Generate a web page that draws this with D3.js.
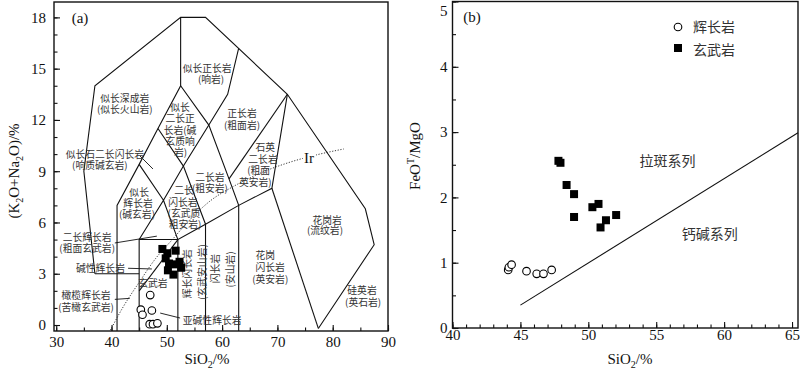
<!DOCTYPE html>
<html>
<head>
<meta charset="utf-8">
<script src="https://cdn.jsdelivr.net/npm/d3@7"></script>
<style>
  body { margin: 0; background: #fff; }
  text { font-family: "Liberation Serif", "Times New Roman", serif; fill: #111; }
  .cn { font-family: "Noto Sans CJK SC", sans-serif; font-size: 9.8px; fill: #333; }
  .tick text { font-size: 15px; }
</style>
</head>
<body>
<svg id="chart" width="800" height="371"></svg>
<script>
// ---- (a) TAS data: SiO2, K2O+Na2O
const gabbroTAS = [[47.0, 1.75], [45.3, 0.9], [45.6, 0.6], [47.3, 0.85], [46.9, 0.05], [47.5, 0.05], [48.3, 0.1]];
const basaltTAS = [[49.2, 4.45], [50.1, 4.2], [51.6, 4.35], [49.8, 3.9], [50.4, 3.6], [51.3, 3.55],
                   [52.3, 3.7], [50.2, 3.2], [51.2, 2.95], [52.6, 3.35]];

// ---- (b) data: SiO2, FeOT/MgO
const gabbroFM = [[44.1, 0.89], [44.15, 0.93], [44.35, 0.97], [45.45, 0.87], [46.2, 0.83], [46.7, 0.83], [47.3, 0.89]];
const basaltFM = [[47.8, 2.56], [47.95, 2.53], [48.4, 2.19], [48.95, 2.05], [48.95, 1.70], [50.3, 1.85],
                  [50.75, 1.90], [51.3, 1.65], [50.9, 1.54], [52.05, 1.73]];

// Middlemost (1994) field boundaries, B = bottom of plot
const B = -0.35;
const tasFields = [
  [[37, 3], [35, 9], [37, 14], [52.5, 18], [57, 18], [71.8, 13.5], [85.9, 6.8], [87.5, 4.7], [77.4, -0.2]],
  [[37, 3], [45, 3]],
  [[41, B], [41, 7], [45, 9.4], [48.4, 11.5], [52.5, 14], [52.5, 18]],
  [[45, B], [45, 5], [52, 5]],
  [[45, 2], [52, 5]],
  [[52, B], [52, 5], [57, 5.9], [63, 7], [69, 8], [71.8, 13.5]],
  [[45, 5], [49.4, 7.3], [52, 5]],
  [[45, 9.4], [49.4, 7.3], [53, 9.3], [57.6, 11.7], [61, 13.5], [63, 16.2]],
  [[48.4, 11.5], [53, 9.3], [57, 5.9], [57, B]],
  [[52.5, 14], [57.6, 11.7], [61.25, 8.55], [63, 7], [63, B]],
  [[61.25, 8.55], [71.8, 13.5]],
  [[69, 8], [77.4, -0.2]]
];
// Irvine & Baragar alkaline / subalkaline divide
const irLine = [[39.8, -0.3], [42, 1.0], [45, 2.5], [48, 3.9], [51, 5.0], [54, 6.1], [58, 7.3],
                [62, 8.1], [67, 8.9], [72, 9.5], [77, 9.95], [82, 10.3]];
// tholeiitic / calc-alkaline divide
const thLine = [[45, 0.35], [65.44, 2.99]];

// label layout (data coordinates), one group per field
const fieldLabels = [
  [['似长深成岩', 42.4, 13.28], ['(似长火山岩)', 42.4, 12.64]],
  [['似长正长岩', 57.3, 15.04], ['(响岩)', 58.0, 14.39]],
  [['似长', 52.4, 12.76], ['二长正', 52.4, 12.1], ['长岩(碱', 52.4, 11.43], ['玄质响', 52.4, 10.78], ['岩)', 52.5, 10.13]],
  [['正长岩', 63.6, 12.4], ['(粗面岩)', 63.6, 11.7]],
  [['石英', 67.8, 10.42], ['二长岩', 67.4, 9.71], ['(粗面', 66.6, 9.07], ['英安岩)', 66.0, 8.37]],
  [['二长岩', 57.8, 8.66], ['(粗安岩)', 57.8, 8.0]],
  [['二长', 53.1, 7.9], ['闪长岩', 52.9, 7.2], ['(玄武质', 53.1, 6.55], ['粗安岩)', 53.3, 5.91]],
  [['似长', 45.0, 7.78], ['辉长岩', 44.8, 7.14], ['(碱玄岩)', 44.6, 6.5]],
  [['似长石二长闪长岩', 38.8, 10.0], ['(响质碱玄岩)', 37.9, 9.36]],
  [['二长辉长岩', 35.6, 5.15], ['(粗面玄武岩)', 35.6, 4.5]],
  [['碱性辉长岩', 38.0, 3.32]],
  [['橄榄辉长岩', 35.4, 1.76], ['(苦橄玄武岩)', 35.4, 1.07]],
  [['玄武岩', 47.5, 2.46]],
  [['亚碱性辉长岩', 58.2, 0.29]],
  [['花岗', 67.8, 4.1], ['闪长岩', 68.7, 3.39], ['(英安岩)', 68.7, 2.69]],
  [['花岗岩', 79.0, 6.14], ['(流纹岩)', 78.6, 5.56]],
  [['硅英岩', 85.3, 2.05], ['(英石岩)', 85.5, 1.35]]
];
const rotatedLabels = [['辉长闪长岩', 53.7, 3.0], ['(玄武安山岩)', 56.3, 3.1], ['闪长岩', 58.7, 3.3], ['(安山岩)', 61.4, 3.25]];
const leaders = [
  [[40.6, 4.8], [48.2, 5.2]],
  [[43.0, 3.32], [47.3, 3.28]],
  [[40.6, 1.5], [43.3, 1.56]],
  [[45.15, 9.89], [47.5, 9.13]],
  [[48.8, 0.7], [52.4, 0.41]]
];

const svg = d3.select('#chart');

function frameAxes(g, x, y, xMajor, xMinor, yMajor, yMinor, xPad, yPad) {
    const [x0, x1] = x.range(), [y0, y1] = y.range();
    g.append('g').attr('transform', `translate(0,${y0})`)
        .call(d3.axisBottom(x).tickValues(xMinor).tickSize(-3.5).tickSizeOuter(0).tickFormat(''));
    g.append('g').attr('transform', `translate(0,${y0})`)
        .call(d3.axisBottom(x).tickValues(xMajor).tickSize(-6).tickSizeOuter(0).tickPadding(xPad).tickFormat(d3.format('d')));
    g.append('g').attr('transform', `translate(${x0},0)`)
        .call(d3.axisLeft(y).tickValues(yMinor).tickSize(-3.5).tickSizeOuter(0).tickFormat(''));
    g.append('g').attr('class', 'y-major').attr('transform', `translate(${x0},0)`)
        .call(d3.axisLeft(y).tickValues(yMajor).tickSize(-6).tickSizeOuter(0).tickPadding(yPad).tickFormat(d3.format('d')));
    g.selectAll('.domain').remove();
    g.selectAll('.tick line').attr('stroke', '#111').attr('stroke-width', 1.1);
    g.append('rect')
        .attr('x', x0).attr('y', y1).attr('width', x1 - x0).attr('height', y0 - y1)
        .attr('fill', 'none').attr('stroke', '#111').attr('stroke-width', 1.4);
}

function drawPoints(g, x, y, circles, squares) {
    g.selectAll('.sq').data(squares).join('rect').attr('class', 'sq')
        .attr('x', d => x(d[0]) - 4).attr('y', d => y(d[1]) - 4)
        .attr('width', 8).attr('height', 8).attr('fill', '#000');
    g.selectAll('.ci').data(circles).join('circle').attr('class', 'ci')
        .attr('cx', d => x(d[0])).attr('cy', d => y(d[1])).attr('r', 3.8)
        .attr('fill', '#fff').attr('stroke', '#000').attr('stroke-width', 1.1);
}

function subTitle(g, x, y, parts, rotate) {
    // parts: [text, shift] where shift 1 = subscript, -1 = superscript
    const t = g.append('text').attr('text-anchor', 'middle').style('font-size', '15px')
        .attr('transform', `translate(${x},${y})` + (rotate ? ' rotate(-90)' : ''));
    let prev = 0;
    parts.forEach(([s, shift]) => {
        const dy = shift * 4 - prev * 4 + (shift < 0 ? -2 : 0) - (prev < 0 ? -2 : 0);
        t.append('tspan').attr('dy', dy).style('font-size', shift ? '10px' : '15px').text(s);
        prev = shift;
    });
}

// ---------------- panel (a)
const xA = d3.scaleLinear().domain([29.6, 90]).range([54, 388]);
const yA = d3.scaleLinear().domain([B, 18.9]).range([331, 2]);
const gA = svg.append('g');
const lineA = d3.line().x(d => xA(d[0])).y(d => yA(d[1]));

gA.selectAll('.field').data(tasFields).join('path').attr('class', 'field')
    .attr('d', lineA).attr('fill', 'none').attr('stroke', '#111').attr('stroke-width', 1.1);

gA.append('path').datum(irLine)
    .attr('d', d3.line().x(d => xA(d[0])).y(d => yA(d[1])).curve(d3.curveMonotoneX))
    .attr('fill', 'none').attr('stroke', '#222').attr('stroke-width', 0.9).attr('stroke-dasharray', '1.2,1.6');

gA.selectAll('.leader').data(leaders).join('path').attr('class', 'leader')
    .attr('d', lineA).attr('stroke', '#111').attr('stroke-width', 0.9);

gA.selectAll('.flab').data(fieldLabels).join('text').attr('class', 'cn flab')
    .attr('text-anchor', 'middle').attr('dominant-baseline', 'central')
    .selectAll('tspan').data(d => d).join('tspan')
    .attr('x', d => xA(d[1])).attr('y', d => yA(d[2]))
    .text(d => d[0]);

gA.selectAll('.rlab').data(rotatedLabels).join('text').attr('class', 'cn rlab')
    .attr('transform', d => `translate(${xA(d[1])},${yA(d[2])}) rotate(-90)`)
    .attr('text-anchor', 'middle').attr('dominant-baseline', 'central')
    .text(d => d[0]);

// Ir tag over the dotted line
const irG = gA.append('g').attr('transform', `translate(${xA(75.7)},${yA(9.77)})`);
irG.append('rect').attr('x', -6).attr('y', -7).attr('width', 13).attr('height', 14).attr('fill', '#fff');
irG.append('text').attr('text-anchor', 'middle').attr('dominant-baseline', 'central')
    .style('font-size', '15px').text('Ir');

drawPoints(gA, xA, yA, gabbroTAS, basaltTAS);

frameAxes(gA, xA, yA, d3.range(30, 91, 10), d3.range(30, 91, 5),
    d3.range(0, 19, 3), d3.range(0, 19, 1), 5, 8);

gA.append('text').attr('x', 80).attr('y', 18).attr('text-anchor', 'middle')
    .attr('dominant-baseline', 'central').style('font-size', '15px').text('(a)');

subTitle(gA, 207, 364, [['SiO', 0], ['2', 1], ['/%', 0]], false);
subTitle(gA, 19, 171, [['(K', 0], ['2', 1], ['O+Na', 0], ['2', 1], ['O)/%', 0]], true);

// ---------------- panel (b)
const xB = d3.scaleLinear().domain([40, 65.44]).range([452.5, 798]);
const yB = d3.scaleLinear().domain([0, 5]).range([328, 1.5]);
const gB = svg.append('g');
const lineB = d3.line().x(d => xB(d[0])).y(d => yB(d[1]));

gB.append('path').datum(thLine).attr('d', lineB)
    .attr('fill', 'none').attr('stroke', '#111').attr('stroke-width', 1.1);

drawPoints(gB, xB, yB, gabbroFM, basaltFM);

frameAxes(gB, xB, yB, d3.range(40, 66, 5), d3.range(40, 66, 1),
    d3.range(0, 6, 1), d3.range(0, 5.1, 0.5), 1, 5);
// keep the top label inside the picture
gB.selectAll('.y-major .tick text').filter(d => d === 5).attr('dy', '0.9em');

gB.append('text').attr('x', 472).attr('y', 17).attr('text-anchor', 'middle')
    .attr('dominant-baseline', 'central').style('font-size', '15px').text('(b)');

// legend
gB.append('circle').attr('cx', 678).attr('cy', 27).attr('r', 3.8)
    .attr('fill', '#fff').attr('stroke', '#000').attr('stroke-width', 1.1);
gB.append('rect').attr('x', 674).attr('y', 44).attr('width', 8).attr('height', 8).attr('fill', '#000');
gB.append('text').attr('class', 'cn').attr('x', 693).attr('y', 26).attr('dominant-baseline', 'central')
    .style('font-size', '14px').text('辉长岩');
gB.append('text').attr('class', 'cn').attr('x', 693).attr('y', 49).attr('dominant-baseline', 'central')
    .style('font-size', '14px').text('玄武岩');

gB.append('text').attr('class', 'cn').attr('x', xB(55.84)).attr('y', yB(2.57))
    .attr('text-anchor', 'middle').attr('dominant-baseline', 'central').style('font-size', '14px').text('拉斑系列');
gB.append('text').attr('class', 'cn').attr('x', xB(58.94)).attr('y', yB(1.45))
    .attr('text-anchor', 'middle').attr('dominant-baseline', 'central').style('font-size', '14px').text('钙碱系列');

subTitle(gB, 630, 364, [['SiO', 0], ['2', 1], ['/%', 0]], false);
subTitle(gB, 420, 156, [['FeO', 0], ['T', -1], ['/MgO', 0]], true);
</script>
</body>
</html>
